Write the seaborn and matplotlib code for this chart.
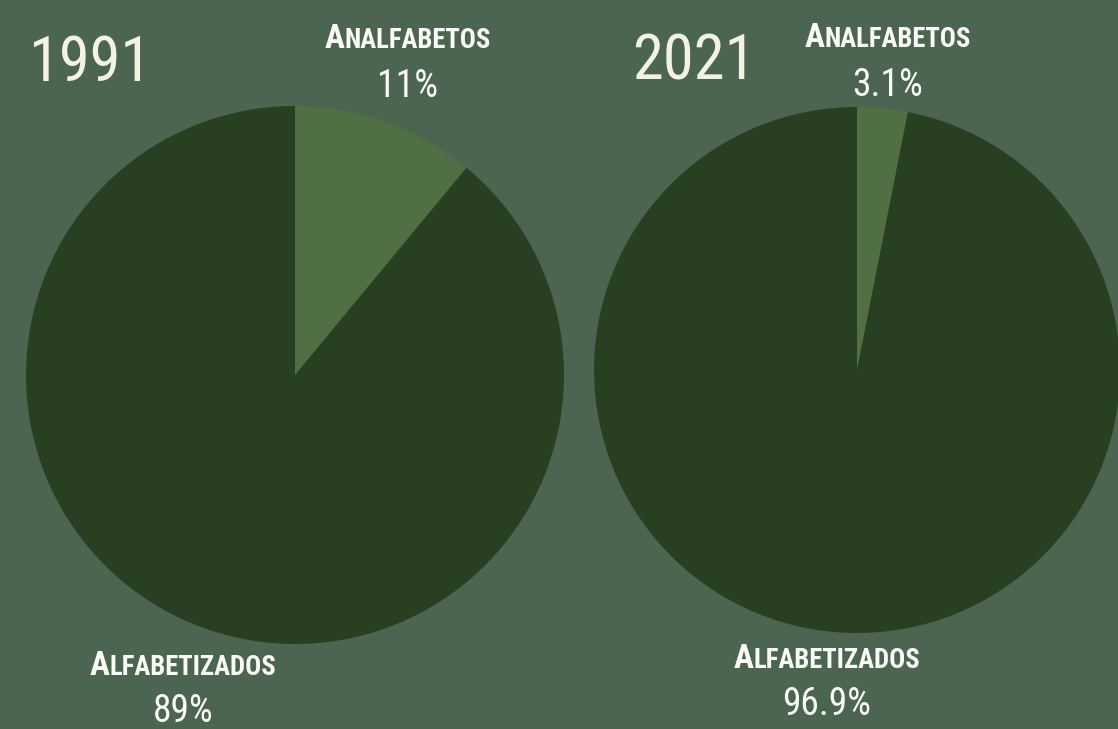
import matplotlib
matplotlib.use("Agg")
import matplotlib.pyplot as plt
from matplotlib import font_manager
import seaborn as sns

sns.set_theme(style="white")

# prefer a narrow face when one is available
_names = {f.name for f in font_manager.fontManager.ttflist}
_narrow = [n for n in ["Roboto Condensed", "Open Sans Condensed", "DejaVu Sans Condensed",
                       "Liberation Sans Narrow", "Roboto", "DejaVu Sans"] if n in _names]
plt.rcParams['font.family'] = _narrow + ['DejaVu Sans']
plt.rcParams['font.stretch'] = 'condensed'

years = ["1991", "2021"]
categories = ["Analfabetos", "Alfabetizados"]
values_1991 = [11, 89]
values_2021 = [3.1, 96.9]
value_labels_1991 = ["11%", "89%"]
value_labels_2021 = ["3.1%", "96.9%"]

BG = "#4b6550"
DARK = "#283f21"
LIGHT = "#506f42"
CREAM = "#f2f4e1"
WHITE = "#fbfbf6"

W, H = 1118, 729
fig = plt.figure(figsize=(W / 100, H / 100), dpi=100, facecolor=BG)


def px_axes(cx, cy, r):
    return fig.add_axes([(cx - r) / W, (H - cy - r) / H, 2 * r / W, 2 * r / H])


def draw_pie(ax, values):
    ax.pie(values, colors=[LIGHT, DARK], startangle=90, counterclock=False,
           wedgeprops=dict(linewidth=0))
    ax.set_xlim(-1, 1)
    ax.set_ylim(-1, 1)
    ax.set_facecolor("none")
    ax.axis("off")


ax1 = px_axes(295, 375, 269)
draw_pie(ax1, values_1991)
ax2 = px_axes(857, 370, 263)
draw_pie(ax2, values_2021)

fig.canvas.draw()
renderer = fig.canvas.get_renderer()


def small_caps(word, cx, cy, size, color):
    """Draw a word in faux small caps centred at pixel (cx, cy)."""
    first, rest = word[0].upper(), word[1:].upper()
    t1 = fig.text(0, 0, first, fontsize=size, color=color, fontweight="bold",
                  va="baseline", ha="left")
    t2 = fig.text(0, 0, rest, fontsize=size * 0.8, color=color, fontweight="bold",
                  va="baseline", ha="left")
    w1 = t1.get_window_extent(renderer).width
    w2 = t2.get_window_extent(renderer).width
    x0 = cx - (w1 + w2) / 2
    base = H - cy
    t1.set_position((x0 / W, base / H))
    t2.set_position(((x0 + w1) / W, base / H))


def label(text, cx, cy, size, color):
    fig.text(cx / W, (H - cy) / H, text, fontsize=size, color=color,
             ha="center", va="baseline")


# year titles
fig.text(28 / W, (H - 81) / H, years[0], fontsize=45, color=CREAM, ha="left", va="baseline")
fig.text(632 / W, (H - 80) / H, years[1], fontsize=45, color=CREAM, ha="left", va="baseline")

# 1991 labels
small_caps(categories[0], 408, 48, 24, WHITE)
label(value_labels_1991[0], 408, 97, 27, WHITE)
small_caps(categories[1], 183, 675, 24, WHITE)
label(value_labels_1991[1], 183, 722, 27, WHITE)

# 2021 labels
small_caps(categories[0], 888, 47, 24, WHITE)
label(value_labels_2021[0], 888, 96, 27, WHITE)
small_caps(categories[1], 827, 668, 24, WHITE)
label(value_labels_2021[1], 827, 715, 27, WHITE)

fig.savefig("out.png", dpi=100, facecolor=BG)
